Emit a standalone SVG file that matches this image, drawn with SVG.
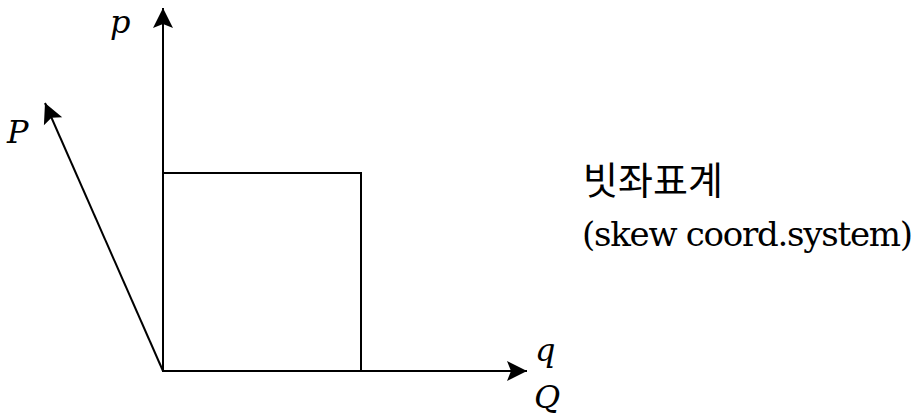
<svg xmlns="http://www.w3.org/2000/svg" width="922" height="419" viewBox="0 0 922 419">
  <style>
    .ax { stroke: #000; stroke-width: 2; fill: none; }
    .lbl { font-family: 'DejaVu Serif', serif; font-style: italic; font-size: 32px; fill: #000; }
    .ko { font-family: 'Noto Sans CJK KR', sans-serif; font-size: 38px; fill: #000; }
    .txt { font-family: 'DejaVu Serif', 'Noto Sans CJK KR', serif; font-size: 34px; fill: #000; }
  </style>
  <defs>
    <marker id="arr" markerUnits="userSpaceOnUse" markerWidth="24" markerHeight="24" viewBox="-22 -12 24 24" refX="0" refY="0" orient="auto">
      <path d="M0,0 L-20,-10 L-16,0 L-20,10 Z" fill="#000"/>
    </marker>
  </defs>
  <rect width="922" height="419" fill="#fff"/>
  <g id="connectors">
    <line class="ax" x1="163" y1="371" x2="163" y2="8" marker-end="url(#arr)"/>
    <line class="ax" x1="163" y1="371" x2="527" y2="371" marker-end="url(#arr)"/>
    <line class="ax" x1="163" y1="371" x2="45" y2="103" marker-end="url(#arr)"/>
  </g>
  <g id="square">
    <rect class="ax" x="163" y="173" width="198" height="198"/>
  </g>
  <g id="labels">
    <text class="lbl" x="110" y="33">p</text>
    <text class="lbl" x="7" y="143">P</text>
    <text class="lbl" x="535" y="361">q</text>
    <text class="lbl" x="534" y="408">Q</text>
  </g>
  <g id="caption">
    <text class="ko" x="583" y="194">빗좌표계</text>
    <text class="txt" x="582" y="246" textLength="331" lengthAdjust="spacing">(skew coord.system)</text>
  </g>
</svg>
